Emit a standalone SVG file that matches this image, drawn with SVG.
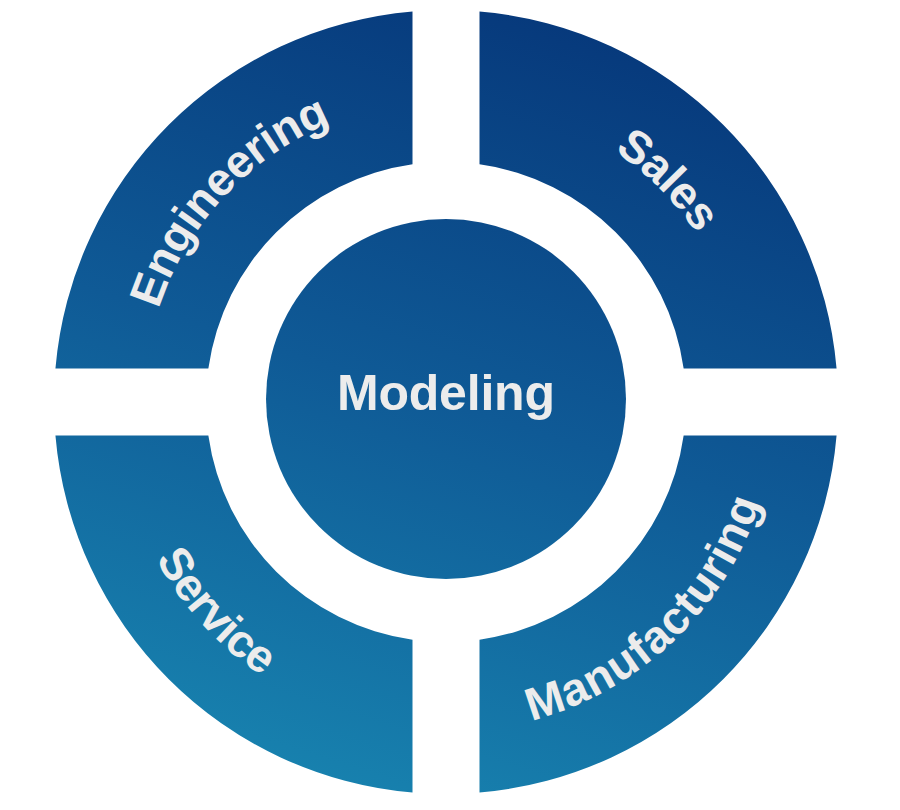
<svg xmlns="http://www.w3.org/2000/svg" width="900" height="810" viewBox="0 0 900 810">
  <defs>
    <linearGradient id="blue" gradientUnits="userSpaceOnUse" x1="580" y1="0" x2="320" y2="810">
      <stop offset="0" stop-color="#06377a"/>
      <stop offset="0.5" stop-color="#0f5a96"/>
      <stop offset="1" stop-color="#1884b0"/>
    </linearGradient>
    <path id="arcTL" d="M 144 402 A 302 302 0 0 1 446 100"/>
    <path id="arcTR" d="M 446 100 A 302 302 0 0 1 748 402"/>
    <path id="arcBR" d="M 446 732 A 330 330 0 0 0 776 402"/>
    <path id="arcBL" d="M 116 402 A 330 330 0 0 0 446 732"/>
  </defs>
  <style>
    .seg { fill: url(#blue); }
    .lbl { font-family: "Liberation Sans", Arial, sans-serif; font-weight: 700; font-size: 46px; fill: #ececec; }
    .center { font-size: 50px; }
  </style>
  <rect width="900" height="810" fill="#ffffff"/>

  <g id="engineering">
    <path class="seg" d="M 55.43 368.5 A 392 392 0 0 1 412.5 11.43 L 412.5 164.35 A 240 240 0 0 0 208.35 368.5 Z"/>
    <text class="lbl"><textPath href="#arcTL" startOffset="47.5%" text-anchor="middle" textLength="262">Engineering</textPath></text>
  </g>

  <g id="sales">
    <path class="seg" d="M 479.5 11.43 A 392 392 0 0 1 836.57 368.5 L 683.65 368.5 A 240 240 0 0 0 479.5 164.35 Z"/>
    <text class="lbl"><textPath href="#arcTR" startOffset="50%" text-anchor="middle" textLength="118">Sales</textPath></text>
  </g>

  <g id="manufacturing">
    <path class="seg" d="M 836.57 435.5 A 392 392 0 0 1 479.5 792.57 L 479.5 639.65 A 240 240 0 0 0 683.65 435.5 Z"/>
    <text class="lbl"><textPath href="#arcBR" startOffset="48.5%" text-anchor="middle" textLength="330">Manufacturing</textPath></text>
  </g>

  <g id="service">
    <path class="seg" d="M 412.5 792.57 A 392 392 0 0 1 55.43 435.5 L 208.35 435.5 A 240 240 0 0 0 412.5 639.65 Z"/>
    <text class="lbl"><textPath href="#arcBL" startOffset="47%" text-anchor="middle" textLength="160">Service</textPath></text>
  </g>

  <g id="modeling">
    <circle class="seg" cx="446" cy="399" r="180"/>
    <text class="lbl center" x="446" y="410" text-anchor="middle" textLength="218">Modeling</text>
  </g>
</svg>
